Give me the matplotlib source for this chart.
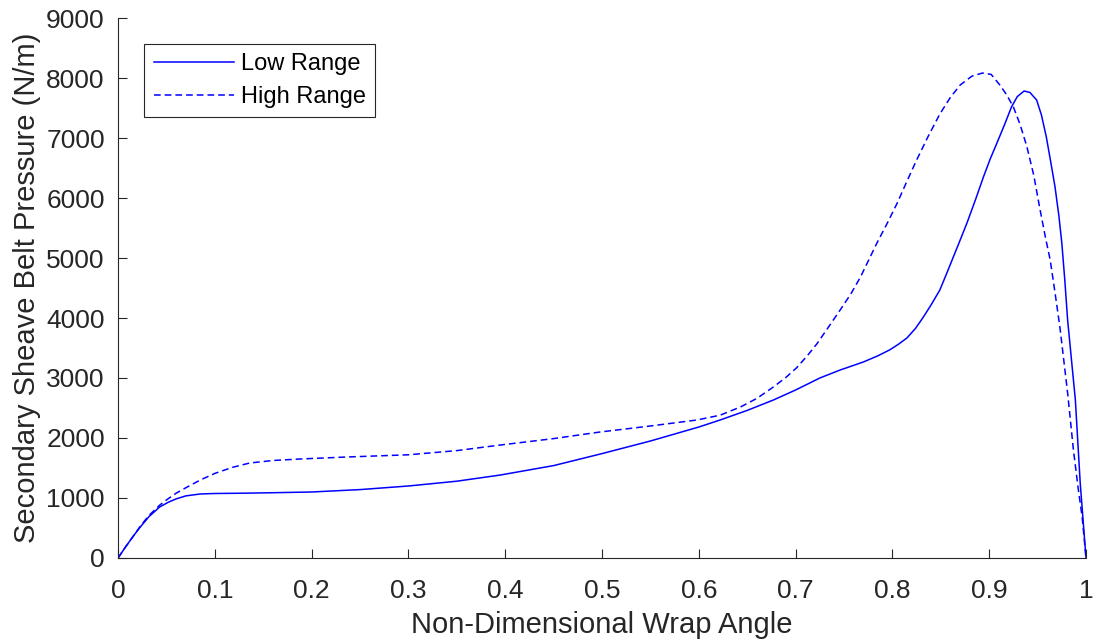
import matplotlib
matplotlib.use("Agg")
import matplotlib.pyplot as plt

# Belt pressure along the secondary sheave wrap
low_x = [0.0, 0.008, 0.016, 0.023, 0.032, 0.043, 0.052, 0.06, 0.07, 0.085, 0.1,
         0.13, 0.16, 0.2, 0.25, 0.3, 0.35, 0.395, 0.45, 0.5, 0.55, 0.6, 0.622,
         0.65, 0.677, 0.7, 0.725, 0.746, 0.77, 0.785, 0.797, 0.806, 0.815, 0.824,
         0.832, 0.84, 0.849, 0.856, 0.863, 0.87, 0.877, 0.886, 0.894, 0.901,
         0.908, 0.916, 0.923, 0.929, 0.936, 0.942, 0.949, 0.954, 0.959, 0.964,
         0.968, 0.972, 0.975, 0.978, 0.981, 0.985, 0.989, 0.994, 1.0]
low_y = [0, 190, 370, 517, 690, 850, 930, 985, 1035, 1067, 1075,
         1080, 1088, 1100, 1140, 1200, 1280, 1383, 1540, 1740, 1950, 2183, 2300,
         2460, 2633, 2800, 3000, 3133, 3267, 3370, 3467, 3560, 3667, 3830,
         4017, 4220, 4467, 4740, 5020, 5300, 5583, 5980, 6350, 6650,
         6917, 7230, 7517, 7690, 7783, 7760, 7633, 7380, 7017, 6560,
         6183, 5700, 5250, 4650, 3967, 3300, 2633, 1250, 0]

high_x = [0.0, 0.008, 0.016, 0.023, 0.032, 0.043, 0.05, 0.06, 0.07, 0.085, 0.1,
          0.118, 0.136, 0.16, 0.188, 0.236, 0.3, 0.35, 0.395, 0.45, 0.498,
          0.55, 0.598, 0.622, 0.643, 0.66, 0.677, 0.69, 0.701, 0.712, 0.722,
          0.734, 0.746, 0.757, 0.767, 0.784, 0.795, 0.805, 0.815, 0.825, 0.837,
          0.849, 0.86, 0.87, 0.882, 0.893, 0.902, 0.911, 0.918, 0.925, 0.932,
          0.939, 0.946, 0.952, 0.958, 0.963, 0.968, 0.973, 0.977, 0.981, 0.987,
          0.992, 0.996, 1.0]
high_y = [0, 190, 370, 530, 710, 880, 967, 1080, 1170, 1300, 1410,
          1510, 1583, 1625, 1650, 1683, 1720, 1790, 1883, 1990, 2100,
          2200, 2300, 2380, 2517, 2660, 2850, 3010, 3170, 3370, 3570,
          3850, 4133, 4400, 4683, 5250, 5590, 5917, 6280, 6633, 7030,
          7400, 7680, 7883, 8030, 8083, 8060, 7883, 7720, 7517, 7220,
          6850, 6380, 5850, 5350, 4967, 4420, 3850, 3300, 2750, 1800,
          1150, 683, 0]

labels = ["Low Range", "High Range"]

plt.rcParams["font.family"] = ["Liberation Sans", "DejaVu Sans"]
text_color = "#262626"

fig = plt.figure(figsize=(10.94, 6.41), dpi=100)
ax = fig.add_axes([0.1079, 0.1295, 0.8848, 0.8424])

ax.plot(low_x, low_y, color=(0, 0, 1), lw=1.1, label=labels[0])
ax.plot(high_x, high_y, color=(0, 0, 1), lw=1.1, dashes=(4.4, 2.6), label=labels[1])

ax.set_xlim(0, 1)
ax.set_ylim(0, 9000)
ax.set_xticks([i / 10 for i in range(11)])
ax.set_xticklabels(["0", "0.1", "0.2", "0.3", "0.4", "0.5", "0.6", "0.7", "0.8", "0.9", "1"])
ax.set_yticks(range(0, 9001, 1000))

for side in ("top", "right"):
    ax.spines[side].set_visible(False)
for side in ("left", "bottom"):
    ax.spines[side].set_color(text_color)
    ax.spines[side].set_linewidth(0.8)

ax.tick_params(direction="in", length=6.5, width=0.8, color=text_color,
               labelcolor=text_color, labelsize=19)
ax.tick_params(axis="x", pad=15)
ax.tick_params(axis="y", pad=9.5)

ax.set_xlabel("Non-Dimensional Wrap Angle", fontsize=21, color=text_color, labelpad=6)
ax.set_ylabel("Secondary Sheave Belt Pressure (N/m)", fontsize=21, color=text_color, labelpad=4)

leg = ax.legend(loc="upper left", bbox_to_anchor=(0.0269, 0.9519), fontsize=17,
                handlelength=3.4, handletextpad=0.3, borderpad=0.4,
                labelspacing=0.45, fancybox=False, framealpha=1, borderaxespad=0)
leg.get_frame().set_edgecolor(text_color)
leg.get_frame().set_linewidth(0.8)

fig.savefig("out.png", dpi=100)
